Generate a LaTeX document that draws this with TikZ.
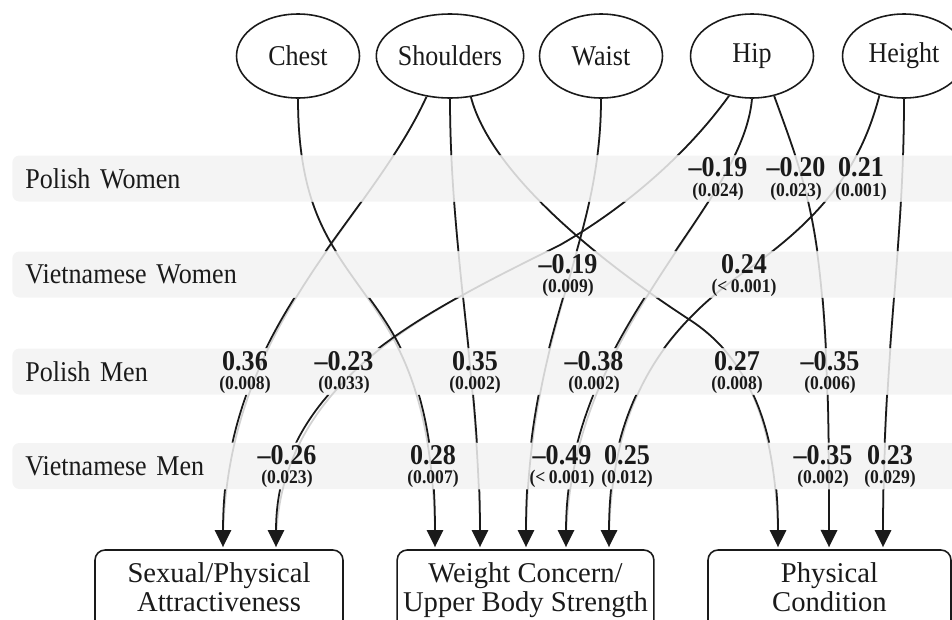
\documentclass[tikz,border=0pt]{standalone}
\usepackage{fontspec}
\setmainfont{Liberation Serif}[FakeStretch=0.91,WordSpace=0.8]
\newfontfamily\boxfont{Liberation Serif}
\usetikzlibrary{shapes.geometric,arrows.meta}

\definecolor{ink}{HTML}{1A1A1A}
\definecolor{bandgray}{HTML}{F4F4F4}
\definecolor{faintgray}{HTML}{D2D2D2}

\tikzset{
  measure/.style={ellipse, draw=ink, line width=0.9pt, minimum width=2.46cm,
    minimum height=1.68cm, inner sep=0pt, text=ink, font=\fontsize{16.3}{18}\selectfont},
  factor/.style={rectangle, rounded corners=0.2cm, draw=ink, line width=0.9pt,
    minimum height=1.64cm, inner ysep=2pt, align=center, text=ink,
    font=\boxfont\fontsize{16.3}{17}\selectfont},
  band/.style={rectangle, rounded corners=0.14cm, fill=bandgray, minimum height=0.92cm,
    inner ysep=0pt, inner xsep=0.26cm, text width=18.5cm, anchor=west, align=left,
    text=ink, font=\fontsize{16.3}{18}\selectfont},
  coef/.style={inner sep=0pt, text=ink, font=\bfseries\fontsize{16.3}{18}\selectfont},
  pval/.style={inner sep=0pt, text=ink, font=\bfseries\fontsize{11}{13}\selectfont},
  edgedark/.style={draw=ink, line width=1pt, -{Triangle[length=0.34cm,width=0.33cm]}},
  edgefaint/.style={draw=faintgray, line width=1pt}
}

\begin{document}
\begin{tikzpicture}[x=0.02cm, y=-0.02cm]
  \useasboundingbox (0,0) rectangle (952,619);

  % groups
  \node[band] (pw) at (12,178.5) {Polish Women};
  \node[band] (vw) at (12,274.5) {Vietnamese Women};
  \node[band] (pm) at (12,371.5) {Polish Men};
  \node[band] (vm) at (12,466) {Vietnamese Men};

  % body measures
  \node[measure] (chest) at (298,56) {Chest};
  \node[measure] (shoulders) at (450,56) {Shoulders};
  \node[measure] (waist) at (601,56) {Waist};
  \node[measure] (hip) at (752,56) {Hip};
  \node[measure] (height) at (904,56) {Height};

  % factors
  \node[factor, minimum width=4.96cm] (sexual) at (219,591) {\strut Sexual/Physical\\Attractiveness\strut};
  \node[factor, minimum width=5.02cm] (weight) at (525.5,591) {\strut Weight Concern/\\Upper Body Strength\strut};
  \node[factor, minimum width=4.86cm] (physical) at (829.5,591) {\strut Physical\\Condition\strut};

  \coordinate (sa1) at (223,547);
  \coordinate (sa2) at (276,547);
  \coordinate (wc1) at (435,547);
  \coordinate (wc2) at (480,547);
  \coordinate (wc3) at (526,547);
  \coordinate (wc4) at (566,547);
  \coordinate (wc5) at (609,547);
  \coordinate (pc1) at (778,547);
  \coordinate (pc2) at (829,547);
  \coordinate (pc3) at (883,547);

  \def\edgeA{(chest.south) .. controls (298,318) and (435,257) .. (wc1)}
  \def\edgeB{(shoulders.240) .. controls (368,225) and (223,325) .. (sa1)}
  \def\edgeC{(shoulders.south) .. controls (450,250) and (480,380) .. (wc2)}
  \def\edgeD{(shoulders.-63) .. controls (490,170) and (590,255) .. (690,320)
    .. controls (750,359) and (778,430) .. (pc1)}
  \def\edgeE{(waist.south) .. controls (601,250) and (526,330) .. (wc3)}
  \def\edgeF{(hip.240) .. controls (690,150) and (630,205) .. (560,245)
    .. controls (430,310) and (276,380) .. (sa2)}
  \def\edgeG{(hip.south) .. controls (742,210) and (566,330) .. (wc4)}
  \def\edgeH{(hip.-61) .. controls (812,200) and (830,240) .. (pc2)}
  \def\edgeI{(height.238) .. controls (860,170) and (820,220) .. (740,275)
    .. controls (650,340) and (609,420) .. (wc5)}
  \def\edgeJ{(height.south) .. controls (904,250) and (883,350) .. (pc3)}

  % inside the bands
  \foreach \e in {\edgeA,\edgeB,\edgeC,\edgeD,\edgeE,\edgeF,\edgeG,\edgeH,\edgeI,\edgeJ}
    \draw[edgefaint] \e;

  % between the bands
  \begin{scope}
    \clip (-10,-10) rectangle (pw.north east)
          (pw.south west) rectangle (vw.north east)
          (vw.south west) rectangle (pm.north east)
          (pm.south west) rectangle (vm.north east)
          (vm.south west) rectangle (1000,700);
    \foreach \e in {\edgeA,\edgeB,\edgeC,\edgeD,\edgeE,\edgeF,\edgeG,\edgeH,\edgeI,\edgeJ}
      \draw[edgedark] \e;
  \end{scope}

  % coefficients
  \foreach \x/\c/\p [count=\i] in {718/–0.19/0.024, 796/–0.20/0.023, 861/0.21/0.001}
    {\node[coef] (pwc\i) at (\x,167.5) {\c};
     \node[pval] (pwp\i) at (\x,191.5) {(\p)};}
  \foreach \x/\c/\p [count=\i] in {568/–0.19/0.009, 744/0.24/< 0.001}
    {\node[coef] (vwc\i) at (\x,264) {\c};
     \node[pval] (vwp\i) at (\x,288) {(\p)};}
  \foreach \x/\c/\p [count=\i] in {245/0.36/0.008, 344/–0.23/0.033, 475/0.35/0.002,
      594/–0.38/0.002, 737/0.27/0.008, 830/–0.35/0.006}
    {\node[coef] (pmc\i) at (\x,361) {\c};
     \node[pval] (pmp\i) at (\x,384.5) {(\p)};}
  \foreach \x/\c/\p [count=\i] in {287/–0.26/0.023, 433/0.28/0.007, 562/–0.49/< 0.001,
      627/0.25/0.012, 823/–0.35/0.002, 890/0.23/0.029}
    {\node[coef] (vmc\i) at (\x,455.5) {\c};
     \node[pval] (vmp\i) at (\x,479) {(\p)};}
\end{tikzpicture}
\end{document}
